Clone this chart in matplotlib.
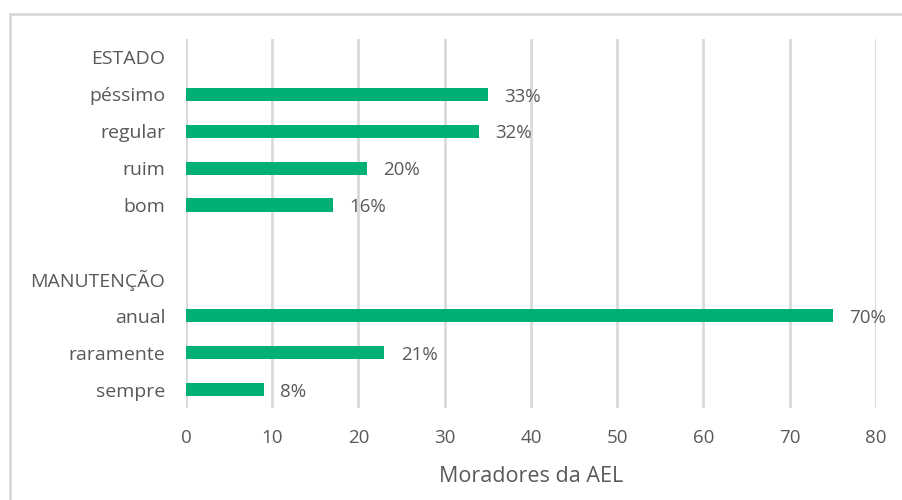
import matplotlib.pyplot as plt
from matplotlib.patches import Rectangle

# categories top to bottom; headers have no bar
categories = ["ESTADO", "péssimo", "regular", "ruim", "bom", "",
              "MANUTENÇÃO", "anual", "raramente", "sempre"]
values = [None, 35, 34, 21, 17, None, None, 75, 23, 9]
pct_labels = [None, "33%", "32%", "20%", "16%", None, None, "70%", "21%", "8%"]
xticks = [0, 10, 20, 30, 40, 50, 60, 70, 80]

green = "#00B074"
txt = "#595959"

plt.rcParams['font.family'] = ['Open Sans', 'DejaVu Sans']

fig = plt.figure(figsize=(9.03, 5.0), dpi=100)
ax = fig.add_axes([186 / 903, 1 - 408 / 500, 690 / 903, 369 / 500])

# outer border (only left and top visible)
fig.patches.append(Rectangle((10 / 903, -0.1), 1.5, 1 - 14 / 500 + 0.1,
                             transform=fig.transFigure, fill=False,
                             edgecolor="#D9D9D9", linewidth=2))

pos = list(range(len(categories)))
for i, v in enumerate(values):
    if v is None:
        continue
    ax.barh(i, v, height=0.36, color=green, zorder=3)
    ax.text(v + 1.9, i + 0.06, pct_labels[i], va="center", ha="left",
            fontsize=13.5, color=txt)

ax.set_ylim(len(categories) - 0.5, -0.5)
ax.set_xlim(0, 80)
ax.set_yticks(pos)
ax.set_yticklabels(categories, fontsize=14, color=txt)
ax.set_xticks(xticks)
ax.set_xticklabels([str(t) for t in xticks], fontsize=13.5, color=txt)
ax.tick_params(length=0)
ax.tick_params(axis="y", pad=15)
ax.tick_params(axis="x", pad=15)

ax.grid(axis="x", color="#D9D9D9", linewidth=2, zorder=0)
for s in ax.spines.values():
    s.set_visible(False)

ax.set_xlabel("Moradores da AEL", fontsize=15.5, color=txt, labelpad=14)

fig.savefig("out.png", dpi=100)
